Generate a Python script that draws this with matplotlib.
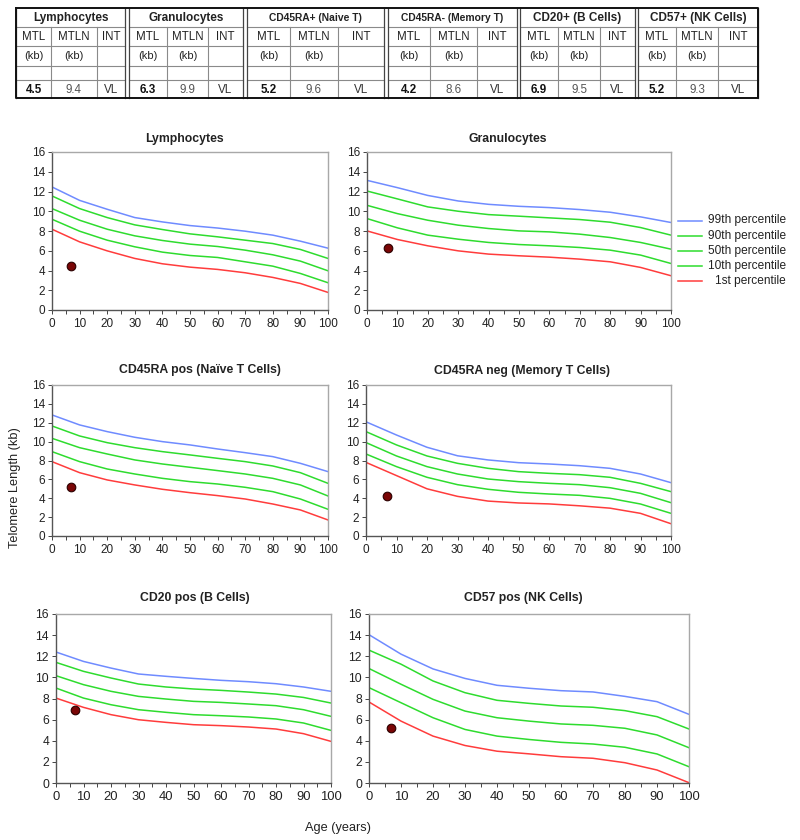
import matplotlib
matplotlib.use("Agg")
import matplotlib.pyplot as plt
from matplotlib.ticker import MultipleLocator
from matplotlib.lines import Line2D

plt.rcParams['font.family'] = ['Liberation Sans', 'DejaVu Sans']

# ---------------- table data ----------------
groups = ["Lymphocytes", "Granulocytes", "CD45RA+ (Naive T)", "CD45RA- (Memory T)",
          "CD20+ (B Cells)", "CD57+ (NK Cells)"]
col_heads = ["MTL", "MTLN", "INT"]
col_units = ["(kb)", "(kb)", ""]
mtl = [4.5, 6.3, 5.2, 4.2, 6.9, 5.2]
mtln = [9.4, 9.9, 9.6, 8.6, 9.5, 9.3]
interp = ["VL", "VL", "VL", "VL", "VL", "VL"]

# ---------------- chart data ----------------
ages = [0, 10, 20, 30, 40, 50, 60, 70, 80, 90, 100]
patient_age = 7

lymph_99 = [12.46, 11.1, 10.2, 9.36, 8.92, 8.55, 8.3, 7.98, 7.58, 6.97, 6.26]
lymph_90 = [11.55, 10.27, 9.36, 8.62, 8.15, 7.71, 7.41, 7.07, 6.73, 6.13, 5.22]
lymph_50 = [10.27, 9.09, 8.18, 7.51, 7.04, 6.67, 6.43, 6.06, 5.59, 4.95, 3.97]
lymph_10 = [9.19, 7.98, 7.07, 6.4, 5.86, 5.52, 5.32, 4.88, 4.44, 3.7, 2.76]
lymph_1 = [8.18, 6.9, 5.99, 5.22, 4.68, 4.34, 4.11, 3.77, 3.3, 2.69, 1.78]

gran_99 = [13.13, 12.39, 11.6, 11.04, 10.7, 10.5, 10.37, 10.17, 9.9, 9.43, 8.86]
gran_90 = [12.05, 11.25, 10.44, 10.0, 9.66, 9.5, 9.33, 9.16, 8.89, 8.35, 7.58]
gran_50 = [10.6, 9.76, 9.09, 8.59, 8.25, 8.01, 7.91, 7.68, 7.34, 6.84, 6.16]
gran_10 = [9.26, 8.32, 7.58, 7.17, 6.84, 6.63, 6.5, 6.33, 6.06, 5.56, 4.71]
gran_1 = [8.01, 7.14, 6.5, 5.99, 5.66, 5.49, 5.35, 5.15, 4.88, 4.31, 3.47]

naive_99 = [12.83, 11.77, 11.06, 10.46, 10.0, 9.65, 9.22, 8.83, 8.41, 7.7, 6.82]
naive_90 = [11.66, 10.6, 9.89, 9.36, 8.94, 8.59, 8.23, 7.88, 7.42, 6.71, 5.58]
naive_50 = [10.35, 9.36, 8.69, 8.06, 7.63, 7.28, 6.93, 6.57, 6.11, 5.41, 4.24]
naive_10 = [8.94, 7.88, 7.1, 6.57, 6.11, 5.76, 5.51, 5.16, 4.7, 3.92, 2.83]
naive_1 = [7.88, 6.71, 5.94, 5.41, 4.95, 4.59, 4.28, 3.92, 3.39, 2.76, 1.7]

memory_99 = [12.1, 10.7, 9.4, 8.5, 8.06, 7.77, 7.63, 7.45, 7.17, 6.57, 5.65]
memory_90 = [11.06, 9.65, 8.48, 7.7, 7.17, 6.82, 6.64, 6.5, 6.22, 5.58, 4.7]
memory_50 = [9.9, 8.48, 7.35, 6.57, 6.04, 5.76, 5.58, 5.44, 5.12, 4.52, 3.53]
memory_10 = [8.69, 7.35, 6.22, 5.44, 4.95, 4.63, 4.45, 4.31, 3.99, 3.39, 2.4]
memory_1 = [7.8, 6.4, 5.0, 4.2, 3.7, 3.5, 3.4, 3.2, 2.95, 2.4, 1.3]

bcell_99 = [12.4, 11.51, 10.88, 10.32, 10.1, 9.9, 9.72, 9.59, 9.4, 9.09, 8.68]
bcell_90 = [11.42, 10.57, 9.94, 9.37, 9.09, 8.9, 8.77, 8.61, 8.42, 8.1, 7.57]
bcell_50 = [10.16, 9.31, 8.68, 8.2, 7.95, 7.73, 7.63, 7.48, 7.32, 6.94, 6.31]
bcell_10 = [8.99, 8.04, 7.41, 6.94, 6.69, 6.47, 6.37, 6.25, 6.06, 5.68, 4.98]
bcell_1 = [8.04, 7.16, 6.47, 5.99, 5.74, 5.52, 5.43, 5.3, 5.11, 4.67, 3.94]

nk_99 = [14.04, 12.2, 10.8, 9.9, 9.25, 8.97, 8.74, 8.62, 8.2, 7.7, 6.5]
nk_90 = [12.58, 11.25, 9.66, 8.55, 7.83, 7.54, 7.29, 7.17, 6.85, 6.28, 5.11]
nk_50 = [10.84, 9.35, 7.92, 6.81, 6.18, 5.86, 5.59, 5.46, 5.18, 4.55, 3.34]
nk_10 = [9.03, 7.6, 6.18, 5.07, 4.44, 4.12, 3.85, 3.69, 3.38, 2.75, 1.54]
nk_1 = [7.67, 5.86, 4.44, 3.55, 3.01, 2.76, 2.49, 2.34, 1.92, 1.23, 0.03]

panel_titles = ["Lymphocytes", "Granulocytes", "CD45RA pos (Naïve T Cells)",
                "CD45RA neg (Memory T Cells)", "CD20 pos (B Cells)", "CD57 pos (NK Cells)"]
panel_curves = [
    [lymph_99, lymph_90, lymph_50, lymph_10, lymph_1],
    [gran_99, gran_90, gran_50, gran_10, gran_1],
    [naive_99, naive_90, naive_50, naive_10, naive_1],
    [memory_99, memory_90, memory_50, memory_10, memory_1],
    [bcell_99, bcell_90, bcell_50, bcell_10, bcell_1],
    [nk_99, nk_90, nk_50, nk_10, nk_1],
]
legend_labels = ["99th percentile", "90th percentile", "50th percentile",
                 "10th percentile", "1st percentile"]
curve_colors = ["#6f8bff", "#2edc2e", "#2edc2e", "#2edc2e", "#ff3c3c"]

# ---------------- figure ----------------
W, H = 800, 840
fig = plt.figure(figsize=(W / 100, H / 100), dpi=100)


def px_axes(l, t, r, b):
    return fig.add_axes([l / W, 1 - b / H, (r - l) / W, (b - t) / H])


# ---------- table ----------
tax = px_axes(0, 0, 800, 110)
tax.set_xlim(0, 800)
tax.set_ylim(110, 0)
tax.axis("off")

group_cols = [
    [16, 51, 97, 125],
    [129, 167, 208, 243],
    [247, 290, 338, 384],
    [388, 430, 477, 517],
    [520, 558, 600, 635],
    [638, 676, 718, 758],
]
row_y = [8, 26.7, 45.7, 65.7, 80, 98.3]
grid_c = "#8a8a8a"
for gi, cols in enumerate(group_cols):
    x0, x3 = cols[0], cols[3]
    for yy in row_y[1:-1]:
        tax.plot([x0, x3], [yy, yy], color=grid_c, lw=0.8)
    tax.plot([x0, x0], [row_y[0], row_y[-1]], color="#444444", lw=0.9)
    tax.plot([x3, x3], [row_y[0], row_y[-1]], color="#444444", lw=0.9)
    for xx in cols[1:3]:
        tax.plot([xx, xx], [row_y[1], row_y[-1]], color=grid_c, lw=0.8)
    hdr_size = 7.4 if gi in (2, 3) else 8.5
    tax.text((x0 + x3) / 2, (row_y[0] + row_y[1]) / 2 + 0.5, groups[gi],
             ha="center", va="center", fontsize=hdr_size, fontweight="bold", color="#222222")
    for ci in range(3):
        cx = (cols[ci] + cols[ci + 1]) / 2
        tax.text(cx, (row_y[1] + row_y[2]) / 2 + 0.5, col_heads[ci], ha="center", va="center",
                 fontsize=8.3, color="#222222")
        if col_units[ci]:
            tax.text(cx, (row_y[2] + row_y[3]) / 2 + 0.5, col_units[ci], ha="center", va="center",
                     fontsize=8.0, color="#222222")
    vy = (row_y[4] + row_y[5]) / 2 + 0.5
    tax.text((cols[0] + cols[1]) / 2, vy, f"{mtl[gi]:.1f}", ha="center", va="center",
             fontsize=8.4, fontweight="bold", color="#111111")
    tax.text((cols[1] + cols[2]) / 2, vy, f"{mtln[gi]:.1f}", ha="center", va="center",
             fontsize=8.4, color="#555555")
    tax.text((cols[2] + cols[3]) / 2, vy, interp[gi], ha="center", va="center",
             fontsize=8.4, color="#333333")
tax.plot([16, 758, 758, 16, 16], [8, 8, 98.3, 98.3, 8], color="#111111", lw=1.4)

# ---------- charts ----------
axes_px = [
    (52, 152, 328, 310),
    (367, 152, 671, 310),
    (52, 385, 328, 536),
    (366, 385, 671, 536),
    (56, 614, 331, 783),
    (369, 614, 689, 783),
]
title_px = [(184, 139), (508, 139), (200, 370), (522, 371), (195, 598), (523, 598)]

for i, (l, t, r, b) in enumerate(axes_px):
    ax = px_axes(l, t, r, b)
    for curve, col in zip(panel_curves[i], curve_colors):
        ax.plot(ages, curve, color=col, lw=1.1)
    ax.plot([patient_age], [mtl[i]], "o", ms=6.2, mfc="#7a0606", mec="#2a0000", mew=0.8)
    ax.set_xlim(0, 100)
    ax.set_ylim(0, 16)
    ax.xaxis.set_major_locator(MultipleLocator(10))
    ax.xaxis.set_minor_locator(MultipleLocator(5))
    ax.yaxis.set_major_locator(MultipleLocator(2))
    xfs = 9.4 if i >= 4 else 8.5
    yfs = 8.7 if i >= 4 else 8.5
    ax.tick_params(axis="x", which="both", direction="out", length=3, width=0.7,
                   color="#444444", labelsize=xfs, pad=3, labelcolor="#222222")
    ax.tick_params(axis="y", which="both", direction="out", length=3, width=0.7,
                   color="#444444", labelsize=yfs, pad=2, labelcolor="#222222")
    for side in ("top", "right"):
        ax.spines[side].set_color("#a8a8a8")
        ax.spines[side].set_linewidth(1.0)
    for side in ("left", "bottom"):
        ax.spines[side].set_color("#555555")
        ax.spines[side].set_linewidth(1.0)
    tx, ty = title_px[i]
    fig.text(tx / W, 1 - ty / H, panel_titles[i], ha="center", va="center",
             fontsize=8.8, fontweight="bold", color="#222222")

leg_y = [220.5, 235.7, 251, 266, 281]
for lab, col, yy in zip(legend_labels, curve_colors, leg_y):
    fig.add_artist(Line2D([678 / W, 702 / W], [1 - yy / H, 1 - yy / H], color=col, lw=1.1))
    fig.text(786 / W, 1 - yy / H, lab, ha="right", va="center", fontsize=8.6, color="#222222")

fig.text(15 / W, 1 - 488 / H, "Telomere Length (kb)", rotation=90, ha="center", va="center",
         fontsize=9.2, color="#222222")
fig.text(338 / W, 1 - 828 / H, "Age (years)", ha="center", va="center",
         fontsize=9.2, color="#222222")

fig.savefig("out.png", dpi=100, facecolor="white")
